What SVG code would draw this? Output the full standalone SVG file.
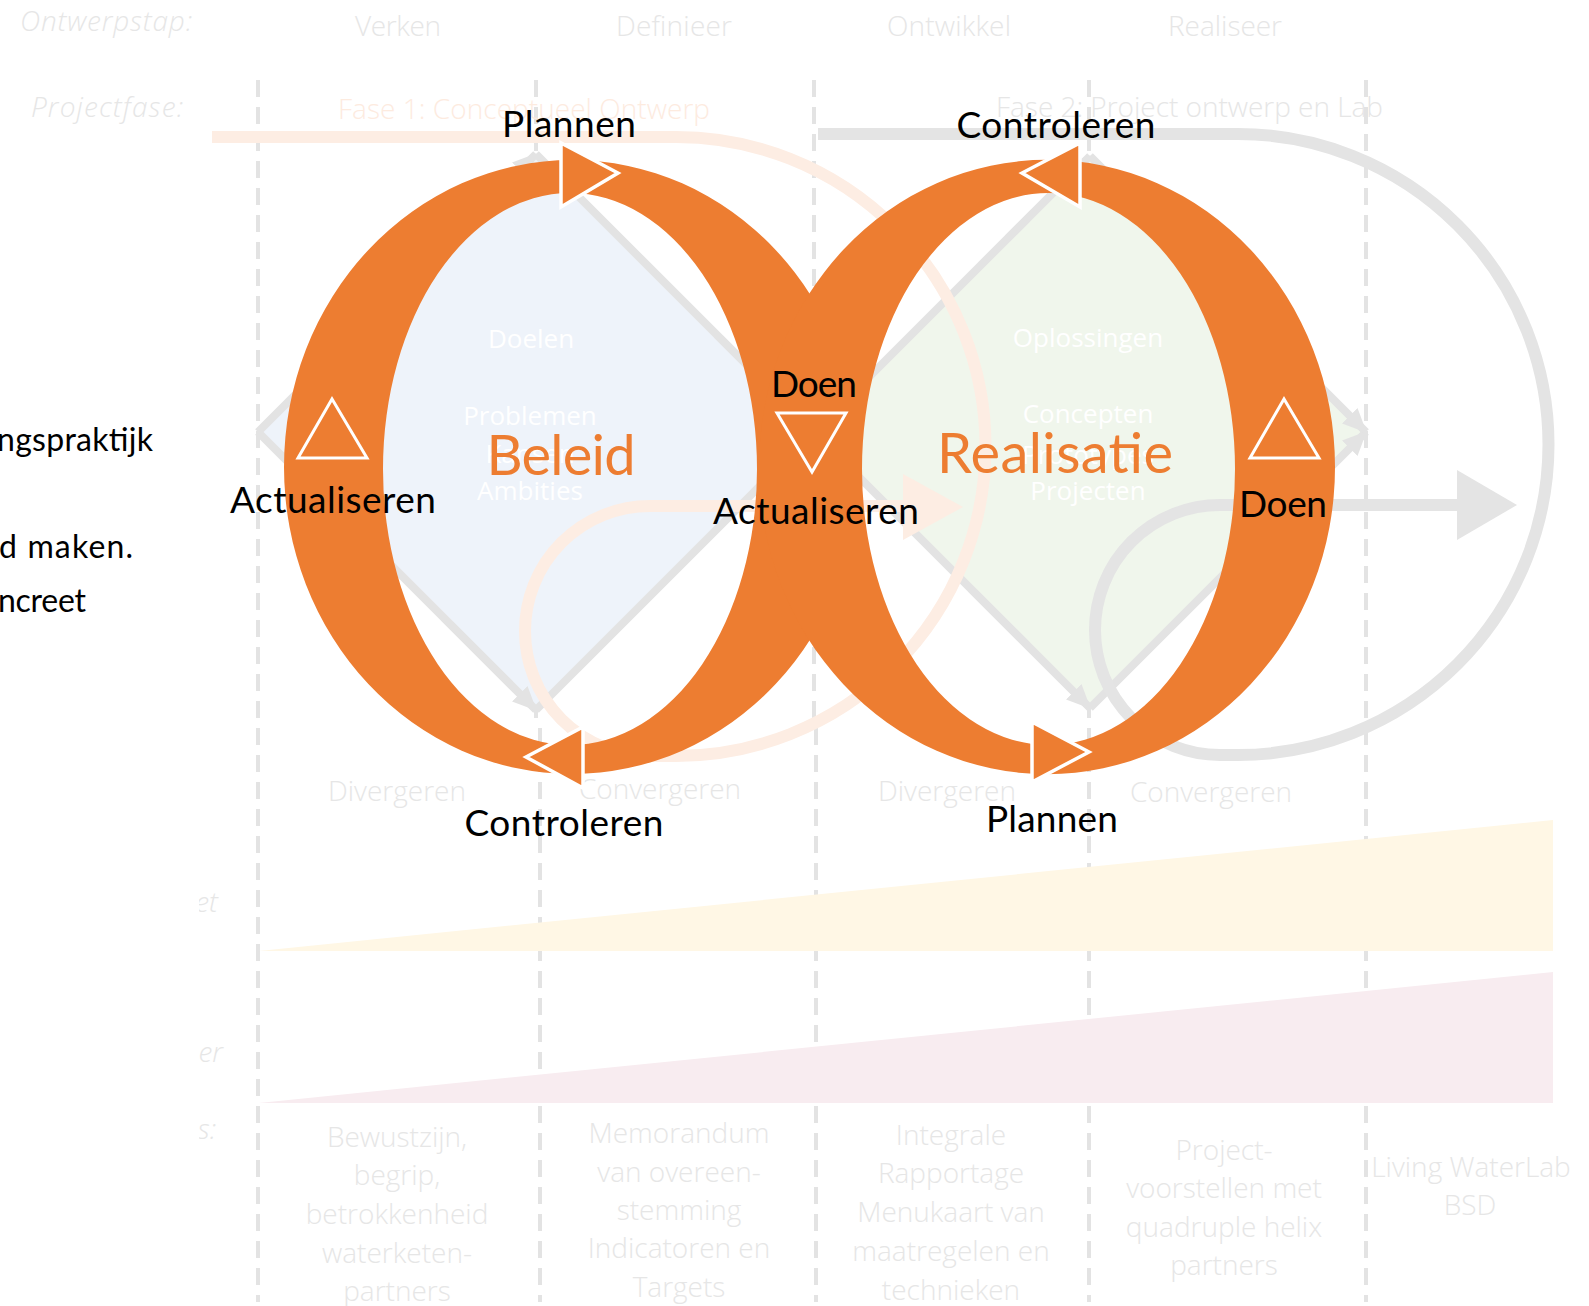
<svg xmlns="http://www.w3.org/2000/svg" width="1589" height="1306" viewBox="0 0 1589 1306">
<defs>
<style>
.dash{stroke:#E3E3E3;stroke-width:4;stroke-dasharray:17 10;fill:none}
.f{font-family:'Open Sans','Liberation Sans',sans-serif;font-weight:300;font-size:28px;fill:#E6E6E6}
.fi{font-family:'Open Sans','Liberation Sans',sans-serif;font-weight:300;font-style:italic;font-size:28px;fill:#E6E6E6}
.w{font-family:'Open Sans','Liberation Sans',sans-serif;font-size:26px;fill:#FFFFFF;text-anchor:middle}
.lbl{font-family:Lato,'Liberation Sans',sans-serif;font-size:37px;fill:#000000;text-anchor:middle}
.big{font-family:Lato,'Liberation Sans',sans-serif;font-size:56px;fill:#ED7D31;text-anchor:middle}
.blk{font-family:Lato,'Liberation Sans',sans-serif;font-size:32px;fill:#000000}
.dl{stroke:#E3E3E3;stroke-width:8;fill:none}
.ring{fill:#ED7D31;fill-rule:evenodd}
.ar{fill:#ED7D31;stroke:#FFFFFF;stroke-width:3.5;stroke-linejoin:miter}
.tri{fill:none;stroke:#FFFFFF;stroke-width:3}
.m{text-anchor:middle}
</style>
<marker id="ah" markerUnits="userSpaceOnUse" viewBox="0 0 24 24" refX="23" refY="12" markerWidth="24" markerHeight="24" orient="auto">
<path d="M0,1 L24,12 L0,23 Z" fill="#E3E3E3"/>
</marker>
<clipPath id="lc"><rect x="199" y="0" width="100" height="1306"/></clipPath>
</defs>
<rect width="1589" height="1306" fill="#FFFFFF"/>

<g id="gridlines">
<path class="dash" d="M258,80 V1302"/>
<path class="dash" d="M536,80 V720"/>
<path class="dash" d="M540,728 V1302"/>
<path class="dash" d="M814,80 V720"/>
<path class="dash" d="M816,728 V1302"/>
<path class="dash" d="M1089,80 V1302"/>
<path class="dash" d="M1366,80 V1302"/>
</g>

<g id="headers">
<text class="fi" x="20" y="31" textLength="172">Ontwerpstap:</text>
<text class="f m" x="398" y="36" textLength="86">Verken</text>
<text class="f m" x="674" y="36" textLength="116">Definieer</text>
<text class="f m" x="949" y="36" textLength="124">Ontwikkel</text>
<text class="f m" x="1225" y="36" textLength="114">Realiseer</text>
<text class="fi" x="31" y="117" textLength="152">Projectfase:</text>
<text class="f" x="338" y="119" style="fill:#FDEBDF" textLength="372">Fase 1: Conceptueel Ontwerp</text>
<text class="f" x="996" y="117" textLength="387">Fase 2: Project ontwerp en Lab</text>
</g>

<g id="diamond-beleid">
<polygon points="258,432 536,154 814,432 536,710" fill="#EEF3FA"/>
<path class="dl" d="M258,432 L536,154" marker-end="url(#ah)"/>
<path class="dl" d="M536,154 L814,432"/>
<path class="dl" d="M258,432 L536,710" marker-end="url(#ah)"/>
<path class="dl" d="M536,710 L814,432"/>
</g>
<g id="diamond-realisatie">
<polygon points="814,432 1090,156 1366,432 1090,708" fill="#F0F6EC"/>
<path class="dl" d="M814,432 L1090,156" marker-end="url(#ah)"/>
<path class="dl" d="M1090,156 L1366,432" marker-end="url(#ah)"/>
<path class="dl" d="M814,432 L1090,708" marker-end="url(#ah)"/>
<path class="dl" d="M1090,708 L1366,432" marker-end="url(#ah)"/>
</g>

<g id="diamond-texts">
<text class="w" x="531" y="348">Doelen</text>
<text class="w" x="530" y="425">Problemen</text>
<text class="w" x="530" y="463">Kansen</text>
<text class="w" x="530" y="500">Ambities</text>
<text class="w" x="1088" y="347">Oplossingen</text>
<text class="w" x="1088" y="423">Concepten</text>
<text class="w" x="1088" y="464">Prototypes</text>
<text class="w" x="1088" y="500">Projecten</text>
</g>

<g id="connectors">
<path d="M212,137 H676 A309.5,309.5 0 0 1 676,756 H650 A125,125 0 0 1 650,506 H905" fill="none" stroke="#FDEDE3" stroke-width="12"/>
<polygon points="903,474 903,540 963,507" fill="#FDEDE3"/>
<path d="M818,134 H1238 A310.5,310.5 0 0 1 1238,755 H1220 A125,125 0 0 1 1220,505 H1459" fill="none" stroke="#E4E4E4" stroke-width="12"/>
<polygon points="1457,470 1457,540 1517,505" fill="#E4E4E4"/>
</g>

<g id="phase-labels">
<text class="f m" x="397" y="801">Divergeren</text>
<text class="f m" x="660" y="799">Convergeren</text>
<text class="f m" x="947" y="801">Divergeren</text>
<text class="f m" x="1211" y="802">Convergeren</text>
</g>

<g id="wedges">
<polygon points="259,951 1553,820 1553,951" fill="#FFF7E5"/>
<polygon points="259,1103 1553,972 1553,1103" fill="#F8ECF0"/>
</g>

<g id="left-labels" clip-path="url(#lc)">
<text class="fi" x="218" y="912" text-anchor="end">et</text>
<text class="fi" x="223" y="1062" text-anchor="end">er</text>
<text class="fi" x="216" y="1139" text-anchor="end">s:</text>
</g>

<g id="left-text">
<text class="blk" x="-3" y="451" textLength="156">ngspraktijk</text>
<text class="blk" x="-1" y="558" textLength="134">d maken.</text>
<text class="blk" x="-2" y="612" textLength="88">ncreet</text>
</g>

<g id="ring-beleid">
<path class="ring" d="M284,467 A288,307 0 1 1 860,467 A288,307 0 1 1 284,467 Z M383,469 A187,276 0 1 0 757,469 A187,276 0 1 0 383,469 Z"/>
</g>
<g id="ring-realisatie">
<path class="ring" d="M759,467 A288,307 0 1 1 1335,467 A288,307 0 1 1 759,467 Z M862,469 A186.5,276 0 1 0 1235,469 A186.5,276 0 1 0 862,469 Z"/>
</g>

<g id="ring-arrows">
<polygon class="ar" points="561,143 561,207 618,173"/>
<polygon class="ar" points="583,727 583,788 526,757"/>
<polygon class="ar" points="1080,143 1080,207 1022,173"/>
<polygon class="ar" points="1032,722 1032,782 1089,752"/>
<polygon class="tri" points="332,399 298,458 367,458"/>
<polygon class="tri" points="777,413 846,413 812,472"/>
<polygon class="tri" points="1284,399 1250,458 1319,458"/>
</g>

<g id="cycle-labels">
<text class="lbl" x="569" y="137" textLength="134">Plannen</text>
<text class="lbl" x="1056" y="138" textLength="199">Controleren</text>
<text class="lbl" x="814" y="397" textLength="86">Doen</text>
<text class="lbl" x="816" y="524" textLength="206">Actualiseren</text>
<text class="lbl" x="333" y="513" textLength="206">Actualiseren</text>
<text class="lbl" x="1283" y="517" textLength="88">Doen</text>
<text class="lbl" x="564" y="836" textLength="199">Controleren</text>
<text class="lbl" x="1052" y="832" textLength="132">Plannen</text>
</g>

<g id="titles">
<text class="big" x="561" y="475" textLength="149">Beleid</text>
<text class="big" x="1055" y="473" textLength="236">Realisatie</text>
</g>

<g id="deliverables">
<text class="f m" x="397" y="1147">Bewustzijn,</text>
<text class="f m" x="397" y="1185">begrip,</text>
<text class="f m" x="397" y="1224">betrokkenheid</text>
<text class="f m" x="397" y="1263">waterketen-</text>
<text class="f m" x="397" y="1301">partners</text>
<text class="f m" x="679" y="1143">Memorandum</text>
<text class="f m" x="679" y="1182">van overeen-</text>
<text class="f m" x="679" y="1220">stemming</text>
<text class="f m" x="679" y="1258">Indicatoren en</text>
<text class="f m" x="679" y="1297">Targets</text>
<text class="f m" x="951" y="1145">Integrale</text>
<text class="f m" x="951" y="1183">Rapportage</text>
<text class="f m" x="951" y="1222">Menukaart van</text>
<text class="f m" x="951" y="1261">maatregelen en</text>
<text class="f m" x="951" y="1300">technieken</text>
<text class="f m" x="1224" y="1160">Project-</text>
<text class="f m" x="1224" y="1198">voorstellen met</text>
<text class="f m" x="1224" y="1237">quadruple helix</text>
<text class="f m" x="1224" y="1275">partners</text>
<text class="f m" x="1471" y="1177">Living WaterLab</text>
<text class="f m" x="1470" y="1215">BSD</text>
</g>
</svg>
